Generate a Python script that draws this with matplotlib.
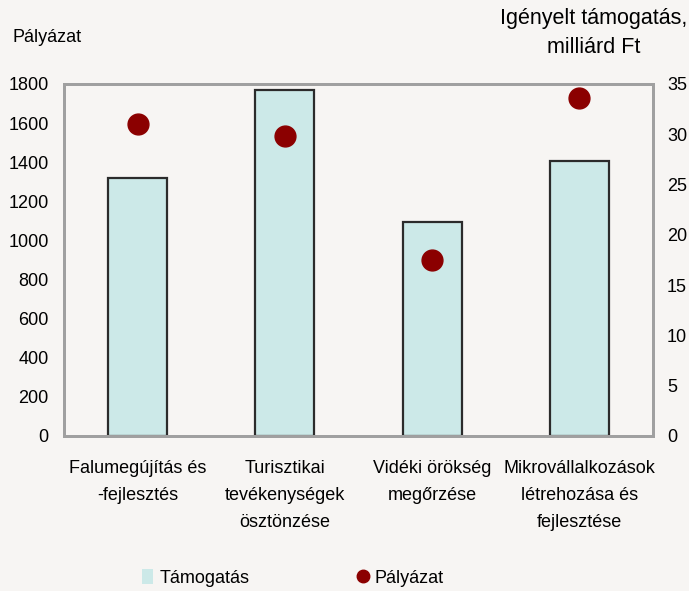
import numpy as np
import matplotlib
matplotlib.use("Agg")
import matplotlib.pyplot as plt
from matplotlib.lines import Line2D
from matplotlib.patches import Patch

plt.rcParams['font.family'] = ['Liberation Sans', 'DejaVu Sans']
plt.rcParams['font.size'] = 13

categories = ["Falumegújítás és\n-fejlesztés", "Turisztikai\ntevékenységek\nösztönzése",
              "Vidéki örökség\nmegőrzése", "Mikrovállalkozások\nlétrehozása és\nfejlesztése"]
tamogatas = [25.7, 34.4, 21.3, 27.3]      # milliárd Ft (jobb tengely)
palyazat = [1595, 1534, 900, 1728]        # db (bal tengely)

bg = "#F7F5F3"
fig = plt.figure(figsize=(6.89, 5.91), dpi=100, facecolor=bg)
ax = fig.add_axes([64/689, 1-436/591, 589/689, 352/591])
ax.set_facecolor(bg)
x = np.arange(len(categories))

ax.bar(x, tamogatas, width=0.4, color="#CCE9E8", edgecolor="#2B2B2B", linewidth=1.6, zorder=2)
ax.set_ylim(0, 35)
ax.set_yticks(np.arange(0, 36, 5))
ax.set_xlim(-0.5, 3.5)
ax.set_xticks(x)
ax.set_xticklabels(categories, linespacing=1.8)
ax.tick_params(axis='x', length=0, pad=17)

ax2 = ax.twinx()
ax2.plot(x, palyazat, 'o', color="#8B0000", markersize=15, zorder=3)
ax2.set_ylim(0, 1800)
ax2.set_yticks(np.arange(0, 1801, 200))

ax.yaxis.tick_right()
ax.tick_params(axis='y', length=0, pad=10)
ax2.yaxis.tick_left()
ax2.tick_params(axis='y', length=0, pad=11)

for a in (ax, ax2):
    for s in a.spines.values():
        s.set_color("#A0A0A0")
        s.set_linewidth(2)

fig.text(12/689, 1-38/591, "Pályázat", ha='left', va='center', fontsize=13)
fig.text(594/689, 1-33/591, "Igényelt támogatás,\nmilliárd Ft", ha='center', va='center',
         fontsize=15.5, linespacing=1.45)

handles = [Patch(facecolor="#CCE9E8", edgecolor="none"),
           Line2D([], [], marker='o', color="#8B0000", linestyle='none', markersize=9)]
fig.legend(handles, ["Támogatás", "Pályázat"], loc='center', bbox_to_anchor=(293/689, 1-578/591),
           ncol=2, frameon=False, fontsize=13, columnspacing=6.0, handlelength=0.6,
           handleheight=0.9, handletextpad=0.35)

fig.savefig("out.png", dpi=100, facecolor=bg)
